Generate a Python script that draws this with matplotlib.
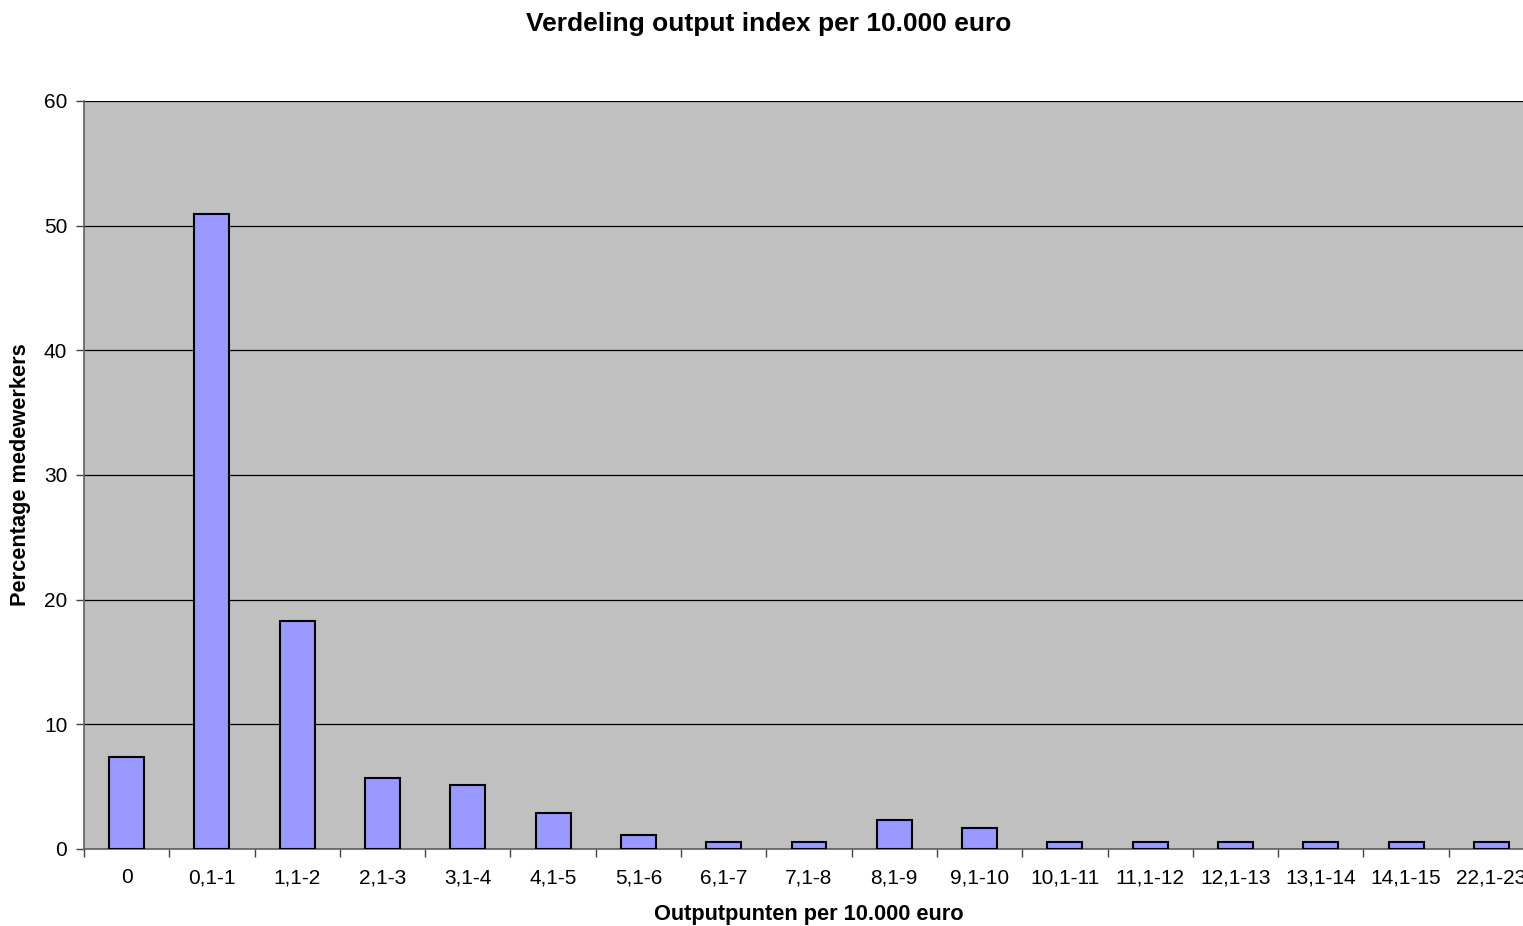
import matplotlib.pyplot as plt
import numpy as np

plt.rcParams['font.family'] = ['Liberation Sans', 'DejaVu Sans']

# categories and percentages
categories = ['0', '0,1-1', '1,1-2', '2,1-3', '3,1-4', '4,1-5', '5,1-6', '6,1-7',
              '7,1-8', '8,1-9', '9,1-10', '10,1-11', '11,1-12', '12,1-13',
              '13,1-14', '14,1-15', '22,1-23']
percentages = [7.4, 50.9, 18.3, 5.7, 5.1, 2.9, 1.1, 0.6,
               0.6, 2.3, 1.7, 0.6, 0.6, 0.6,
               0.6, 0.6, 0.6]
y_ticks = [0, 10, 20, 30, 40, 50, 60]


def generate_bar_chart(labels, values):
    fig = plt.figure(figsize=(15.23, 9.26), dpi=100)
    # plot area runs past the right edge, as in the original
    ax = fig.add_axes([84 / 1523, 77 / 926, 1450 / 1523, 748 / 926])
    ax.set_facecolor('#C0C0C0')
    x = np.arange(len(labels))
    ax.bar(x, values, width=0.41, color='#9999FF', edgecolor='black',
           linewidth=1.5, zorder=3)

    ax.set_xlim(-0.5, len(labels) - 0.5)
    ax.set_ylim(0, 60)
    ax.set_yticks(y_ticks)
    ax.yaxis.grid(True, color='black', linewidth=0.9, zorder=1)
    ax.set_axisbelow(True)

    ax.set_xticks(x)
    ax.set_xticklabels(labels, fontsize=15)
    ax.set_xticks(np.arange(len(labels) + 1) - 0.5, minor=True)
    ax.tick_params(axis='x', which='major', length=0, pad=14)
    ax.tick_params(axis='x', which='minor', length=6, width=1, color='#404040')
    ax.tick_params(axis='y', length=6, width=1, color='#404040', labelsize=15, pad=6)

    for side in ['left', 'bottom']:
        ax.spines[side].set_color('#606060')
        ax.spines[side].set_linewidth(1.2)
    ax.spines['top'].set_visible(False)
    ax.spines['right'].set_visible(False)

    ax.set_xlabel('Outputpunten per 10.000 euro', fontsize=15.7,
                  fontweight='bold', labelpad=12)
    ax.set_ylabel('Percentage medewerkers', fontsize=15.7,
                  fontweight='bold', labelpad=9)
    fig.text(769 / 1523, 1 - 24 / 926, 'Verdeling output index per 10.000 euro',
             fontsize=19, fontweight='bold', ha='center', va='center')
    fig.savefig('out.png', dpi=100)


if __name__ == '__main__':
    generate_bar_chart(categories, percentages)
